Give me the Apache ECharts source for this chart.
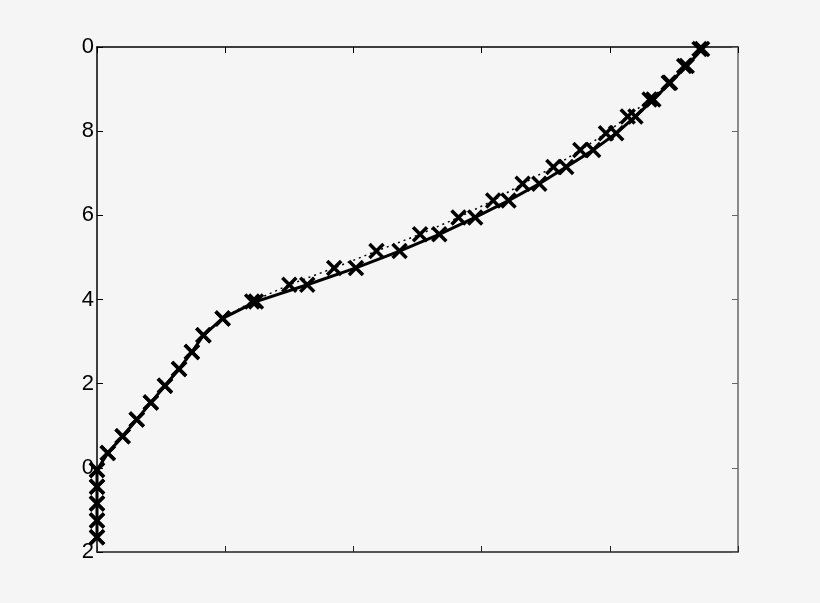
<!DOCTYPE html>
<html>
<head>
<meta charset="utf-8">
<title>profile</title>
<script src="https://cdn.jsdelivr.net/npm/echarts@6/dist/echarts.min.js"></script>
<style>
    html, body { margin: 0; padding: 0; background: #f5f5f5; }
    #profileChart { width: 820px; height: 603px; }
</style>
</head>
<body>
<div id="profileChart"></div>
<script>
// height levels (y axis)
var levelList = [-1.65, -1.25, -0.85, -0.45, -0.05, 0.35, 0.75, 1.15, 1.55, 1.95,
    2.35, 2.75, 3.15, 3.55, 3.95, 4.35, 4.75, 5.15, 5.55, 5.95,
    6.35, 6.75, 7.15, 7.55, 7.95, 8.35, 8.75, 9.15, 9.55, 9.95];
// solid line x values
var solidList = [0, 0, 0, 0, 0, 0.084, 0.20, 0.31, 0.42, 0.53,
    0.64, 0.74, 0.83, 0.98, 1.24, 1.64, 2.02, 2.36, 2.67, 2.95,
    3.21, 3.45, 3.66, 3.87, 4.05, 4.20, 4.34, 4.47, 4.60, 4.72];
// dotted line x values
var dottedList = [0, 0, 0, 0, 0, 0.084, 0.20, 0.31, 0.42, 0.53,
    0.64, 0.74, 0.83, 0.98, 1.21, 1.50, 1.85, 2.18, 2.52, 2.82,
    3.09, 3.32, 3.56, 3.77, 3.97, 4.14, 4.31, 4.46, 4.58, 4.70];
// y tick labels as printed on the picture
var tickValues = [-2, 0, 2, 4, 6, 8, 10];
var tickLabels = ['2', '0', '2', '4', '6', '8', '0'];

var crossSymbol = 'path://M0,0L10,10M10,0L0,10';

function toPairs(xList, yList) {
    var out = [];
    for (var i = 0; i < xList.length; i++) {
        out.push([xList[i], yList[i]]);
    }
    return out;
}

// box axis helper, no labels
function boxAxis(pos, min, max, interval, color) {
    return {
        type: 'value',
        position: pos,
        min: min,
        max: max,
        interval: interval,
        axisLine: { show: true, onZero: false, lineStyle: { color: color, width: 1.5 } },
        axisTick: { show: true, inside: true, length: 6, lineStyle: { color: color, width: 1 } },
        axisLabel: { show: false },
        splitLine: { show: false }
    };
}

var myChart = echarts.init(document.getElementById('profileChart'));
var leftAxis = boxAxis('left', -2, 10, 2, '#000');
leftAxis.axisLabel = {
    show: true,
    color: '#000',
    fontFamily: 'Liberation Sans',
    fontSize: 22,
    margin: 3,
    formatter: function (v) {
        var idx = tickValues.indexOf(v);
        return idx >= 0 ? tickLabels[idx] : '';
    }
};
var option = {
    backgroundColor: '#f5f5f5',
    animation: false,
    grid: {
        left: 97,
        right: 82,
        top: 47,
        bottom: 51
    },
    xAxis: [
        boxAxis('bottom', 0, 5, 1, '#222'),
        boxAxis('top', 0, 5, 1, '#000')
    ],
    yAxis: [
        leftAxis,
        boxAxis('right', -2, 10, 2, '#666')
    ],
    series: [
        {
            name: 'dotted',
            type: 'line',
            data: toPairs(dottedList, levelList),
            symbol: crossSymbol,
            symbolSize: 14,
            itemStyle: { color: '#000', borderColor: '#000', borderWidth: 3.5 },
            lineStyle: { color: '#000', width: 1.5, type: [2, 4] },
            z: 2
        },
        {
            name: 'solid',
            type: 'line',
            data: toPairs(solidList, levelList),
            symbol: crossSymbol,
            symbolSize: 14,
            itemStyle: { color: '#000', borderColor: '#000', borderWidth: 3.5 },
            lineStyle: { color: '#000', width: 3 },
            z: 3
        }
    ]
};

myChart.setOption(option, true);
window.addEventListener("resize", function () {
    myChart.resize();
});
</script>
</body>
</html>
